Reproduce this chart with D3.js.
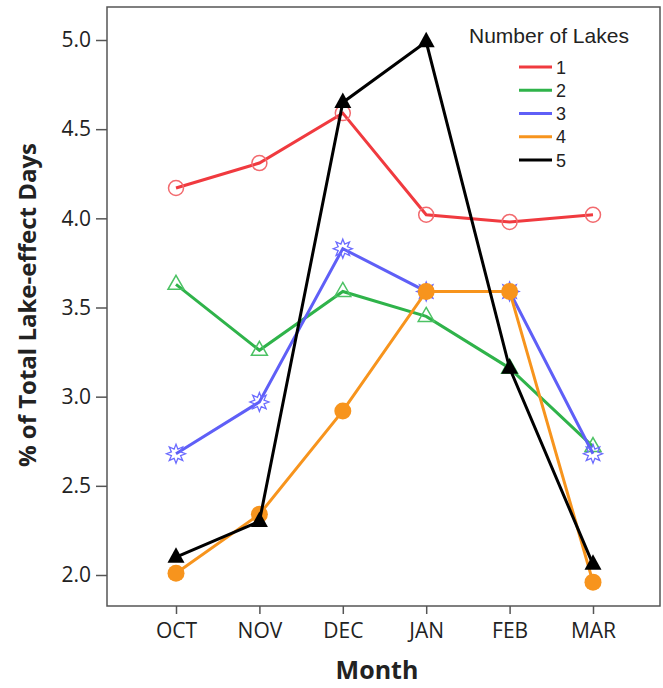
<!DOCTYPE html>
<html><head>
<meta charset="utf-8">
<title>Lake-effect Days by Month</title>
<script src="https://d3js.org/d3.v7.min.js"></script>
<style>
body { margin: 0; background: #fff; }
text { fill: #222; }
</style>
</head>
<body>
<div id="chart"></div>
<script>
// values
var months = ["OCT", "NOV", "DEC", "JAN", "FEB", "MAR"];
var lakes = ["1", "2", "3", "4", "5"];
var yTicks = [2.0, 2.5, 3.0, 3.5, 4.0, 4.5, 5.0];
var lake1 = [4.17, 4.31, 4.59, 4.02, 3.98, 4.02];
var lake2 = [3.63, 3.26, 3.59, 3.45, 3.16, 2.72];
var lake3 = [2.68, 2.97, 3.83, 3.59, 3.59, 2.68];
var lake4 = [2.01, 2.34, 2.92, 3.59, 3.59, 1.96];
var lake5 = [2.10, 2.30, 4.65, 4.99, 3.16, 2.06];
var series = [lake1, lake2, lake3, lake4, lake5];

var colors = ["#f03a3f", "#2fb34a", "#5f5ff7", "#f7941d", "#000000"];
var markColors = ["#f26a6e", "#4cc264", "#6b6bff", "#f7941d", "#000000"];

var W = 663, H = 688;
var box = {left: 107, right: 660, top: 7, bottom: 606};

var svg = d3.select("#chart").append("svg")
    .attr("width", W).attr("height", H);

var x = d3.scalePoint().domain(months).range([176, 593]);
var y = d3.scaleLinear().domain([2.0, 5.0]).range([575, 40]);

// frame
svg.append("rect")
    .attr("x", box.left).attr("y", box.top)
    .attr("width", box.right - box.left).attr("height", box.bottom - box.top)
    .attr("fill", "none").attr("stroke", "#555").attr("stroke-width", 1.5);

var xAxis = svg.append("g")
    .attr("transform", "translate(0," + box.bottom + ")")
    .call(d3.axisBottom(x).tickSize(8).tickPadding(9));
var yAxis = svg.append("g")
    .attr("transform", "translate(" + box.left + ",0)")
    .call(d3.axisLeft(y).tickValues(yTicks).tickFormat(d3.format(".1f")).tickSize(11).tickPadding(5));

[xAxis, yAxis].forEach(function (g) {
  g.select(".domain").remove();
  g.selectAll(".tick line").attr("stroke", "#555").attr("stroke-width", 1.5);
  g.selectAll(".tick text")
      .attr("font-family", "'Open Sans', sans-serif")
      .attr("font-size", 21)
      .attr("fill", "#222");
});

svg.append("text")
    .attr("x", 377).attr("y", 679)
    .attr("text-anchor", "middle")
    .attr("font-family", "'Open Sans', sans-serif")
    .attr("font-weight", "bold").attr("font-size", 25)
    .text("Month");

svg.append("text")
    .attr("transform", "translate(36,305) rotate(-90)")
    .attr("text-anchor", "middle")
    .attr("font-family", "'Open Sans', sans-serif")
    .attr("font-weight", "bold").attr("font-size", 24)
    .text("% of Total Lake-effect Days");

// marker shapes
var starPath = (function () {
  var pts = [];
  for (var i = 0; i < 16; i++) {
    var r = i % 2 === 0 ? 9.5 : 5;
    var a = i * Math.PI / 8 - Math.PI / 2;
    pts.push([r * Math.cos(a), r * Math.sin(a)]);
  }
  return "M" + pts.join("L") + "Z";
})();

function drawMarker(g, i) {
  if (i === 0) {
    g.append("circle").attr("r", 7.5)
        .attr("fill", "none").attr("stroke", markColors[i]).attr("stroke-width", 1.5);
  } else if (i === 1) {
    g.append("path").attr("d", "M0,-9L8,5L-8,5Z")
        .attr("fill", "none").attr("stroke", markColors[i]).attr("stroke-width", 1.5);
  } else if (i === 2) {
    g.append("path").attr("d", starPath)
        .attr("fill", "none").attr("stroke", markColors[i]).attr("stroke-width", 1.3);
  } else if (i === 3) {
    g.append("circle").attr("r", 8.5).attr("fill", markColors[i]);
  } else {
    g.append("path").attr("d", "M0,-10L8.5,5.5L-8.5,5.5Z").attr("fill", markColors[i]);
  }
}

var line = d3.line().x(function (d, j) { return x(months[j]); }).y(function (d) { return y(d); });

series.forEach(function (vals, i) {
  var g = svg.append("g");
  g.append("path").datum(vals)
      .attr("d", line)
      .attr("fill", "none")
      .attr("stroke", colors[i])
      .attr("stroke-width", 3);
  vals.forEach(function (v, j) {
    var m = g.append("g").attr("transform", "translate(" + x(months[j]) + "," + y(v) + ")");
    drawMarker(m, i);
  });
});

// legend
var leg = svg.append("g");
leg.append("text")
    .attr("x", 469).attr("y", 43)
    .attr("font-family", "'Liberation Sans', Arial, sans-serif")
    .attr("font-size", 21)
    .text("Number of Lakes");
var ly = d3.scalePoint().domain(lakes).range([67, 160]);
lakes.forEach(function (k, i) {
  leg.append("line")
      .attr("x1", 519).attr("x2", 552)
      .attr("y1", ly(k)).attr("y2", ly(k))
      .attr("stroke", colors[i]).attr("stroke-width", 3);
  leg.append("text")
      .attr("x", 556).attr("y", ly(k) + 6.5)
      .attr("font-family", "'Liberation Sans', Arial, sans-serif")
      .attr("font-size", 18)
      .text(k);
});
</script>
</body>
</html>
